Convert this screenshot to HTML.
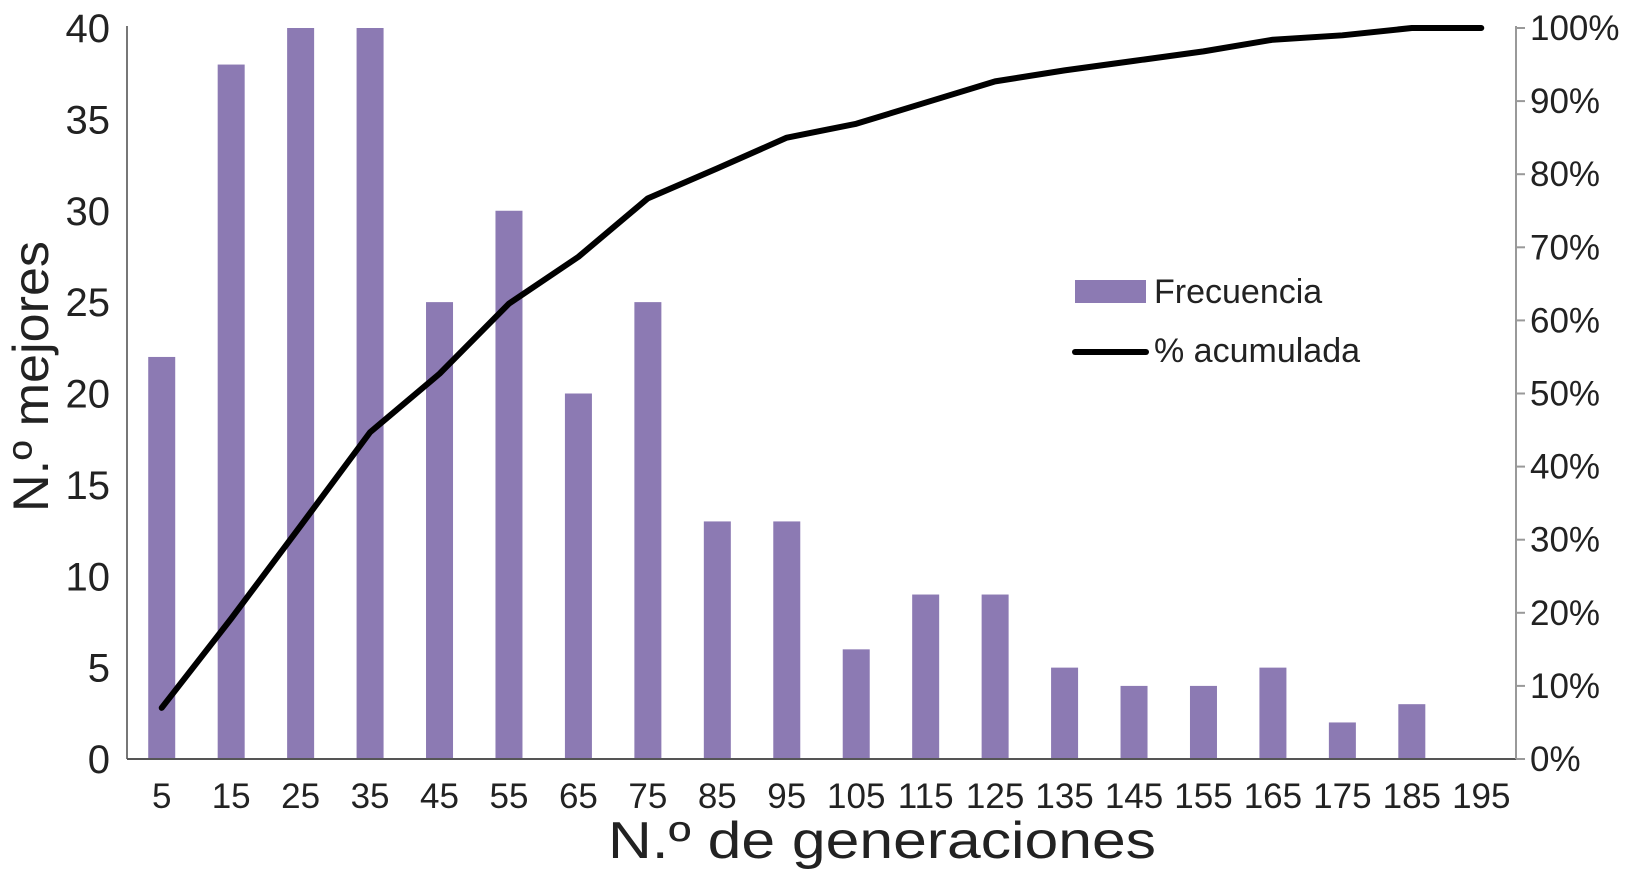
<!DOCTYPE html>
<html><head><meta charset="utf-8"><style>
body{margin:0;background:#fff}
svg text{font-family:"Liberation Sans",Arial,sans-serif;fill:#222}
</style></head><body>
<svg width="1637" height="874" id="c"></svg>
<script>
const categories=["5","15","25","35","45","55","65","75","85","95","105","115","125","135","145","155","165","175","185","195"];
const frequency=[22,38,40,40,25,30,20,25,13,13,6,9,9,5,4,4,5,2,3,0];
const cumulative=[7.0,19.2,31.9,44.7,52.7,62.3,68.7,76.7,80.8,85.0,86.9,89.8,92.7,94.2,95.5,96.8,98.4,99.0,100,100];
const leftTicks=[0,5,10,15,20,25,30,35,40];
const rightTicks=[0,10,20,30,40,50,60,70,80,90,100];
const NS="http://www.w3.org/2000/svg";
const svg=document.getElementById('c');
const L=127,R=1516,T=28,B=759;
const band=(R-L)/categories.length;
const xc=i=>L+band*(i+0.5);
const yL=v=>B-(v/40)*(B-T);
const yR=v=>B-(v/100)*(B-T);
function mk(tag,attrs,txt){const e=document.createElementNS(NS,tag);for(const k in attrs)e.setAttribute(k,attrs[k]);if(txt!==undefined)e.textContent=txt;svg.appendChild(e);return e;}
frequency.forEach((v,i)=>{
  const r=mk('rect',{x:xc(i)-13.5,y:yL(v),width:27,height:B-yL(v),fill:'#8c7ab3'});
  
  
});
let a=mk('line',{x1:L,y1:T-2,x2:L,y2:B,stroke:'#777','stroke-width':2});

a=mk('line',{x1:L,y1:B,x2:R,y2:B,stroke:'#555','stroke-width':2});

a=mk('line',{x1:R,y1:T-2,x2:R,y2:B,stroke:'#999','stroke-width':2});

leftTicks.forEach(v=>{
  const t=mk('text',{x:110,y:yL(v)+14,'text-anchor':'end','font-size':40},v);
  
});
rightTicks.forEach(v=>{
  mk('line',{x1:R,y1:yR(v),x2:R+9,y2:yR(v),stroke:'#999','stroke-width':2});
  const t=mk('text',{x:1530,y:yR(v)+12,'font-size':35},v+'%');
  
});
categories.forEach((c,i)=>{
  const t=mk('text',{x:xc(i),y:808,'text-anchor':'middle','font-size':35},c);
  
});
const pts=cumulative.map((v,i)=>xc(i)+','+yR(v)).join(' ');
const pl=mk('polyline',{points:pts,fill:'none',stroke:'#000','stroke-width':6,'stroke-linejoin':'round','stroke-linecap':'round'});

let t=mk('text',{x:608,y:858,'font-size':52,textLength:548,lengthAdjust:'spacingAndGlyphs'},'N.º de generaciones');

t=mk('text',{x:-136,y:0,'font-size':50,textLength:271,lengthAdjust:'spacingAndGlyphs',transform:'translate(48,376) rotate(-90)'},'N.º mejores');

let s=mk('rect',{x:1075,y:280,width:71,height:23,fill:'#8c7ab3'});

t=mk('text',{x:1154,y:303,'font-size':34},'Frecuencia');

s=mk('line',{x1:1075,y1:352,x2:1146,y2:352,stroke:'#000','stroke-width':6,'stroke-linecap':'round'});

t=mk('text',{x:1154,y:362,'font-size':34},'% acumulada');

</script>
</body></html>
